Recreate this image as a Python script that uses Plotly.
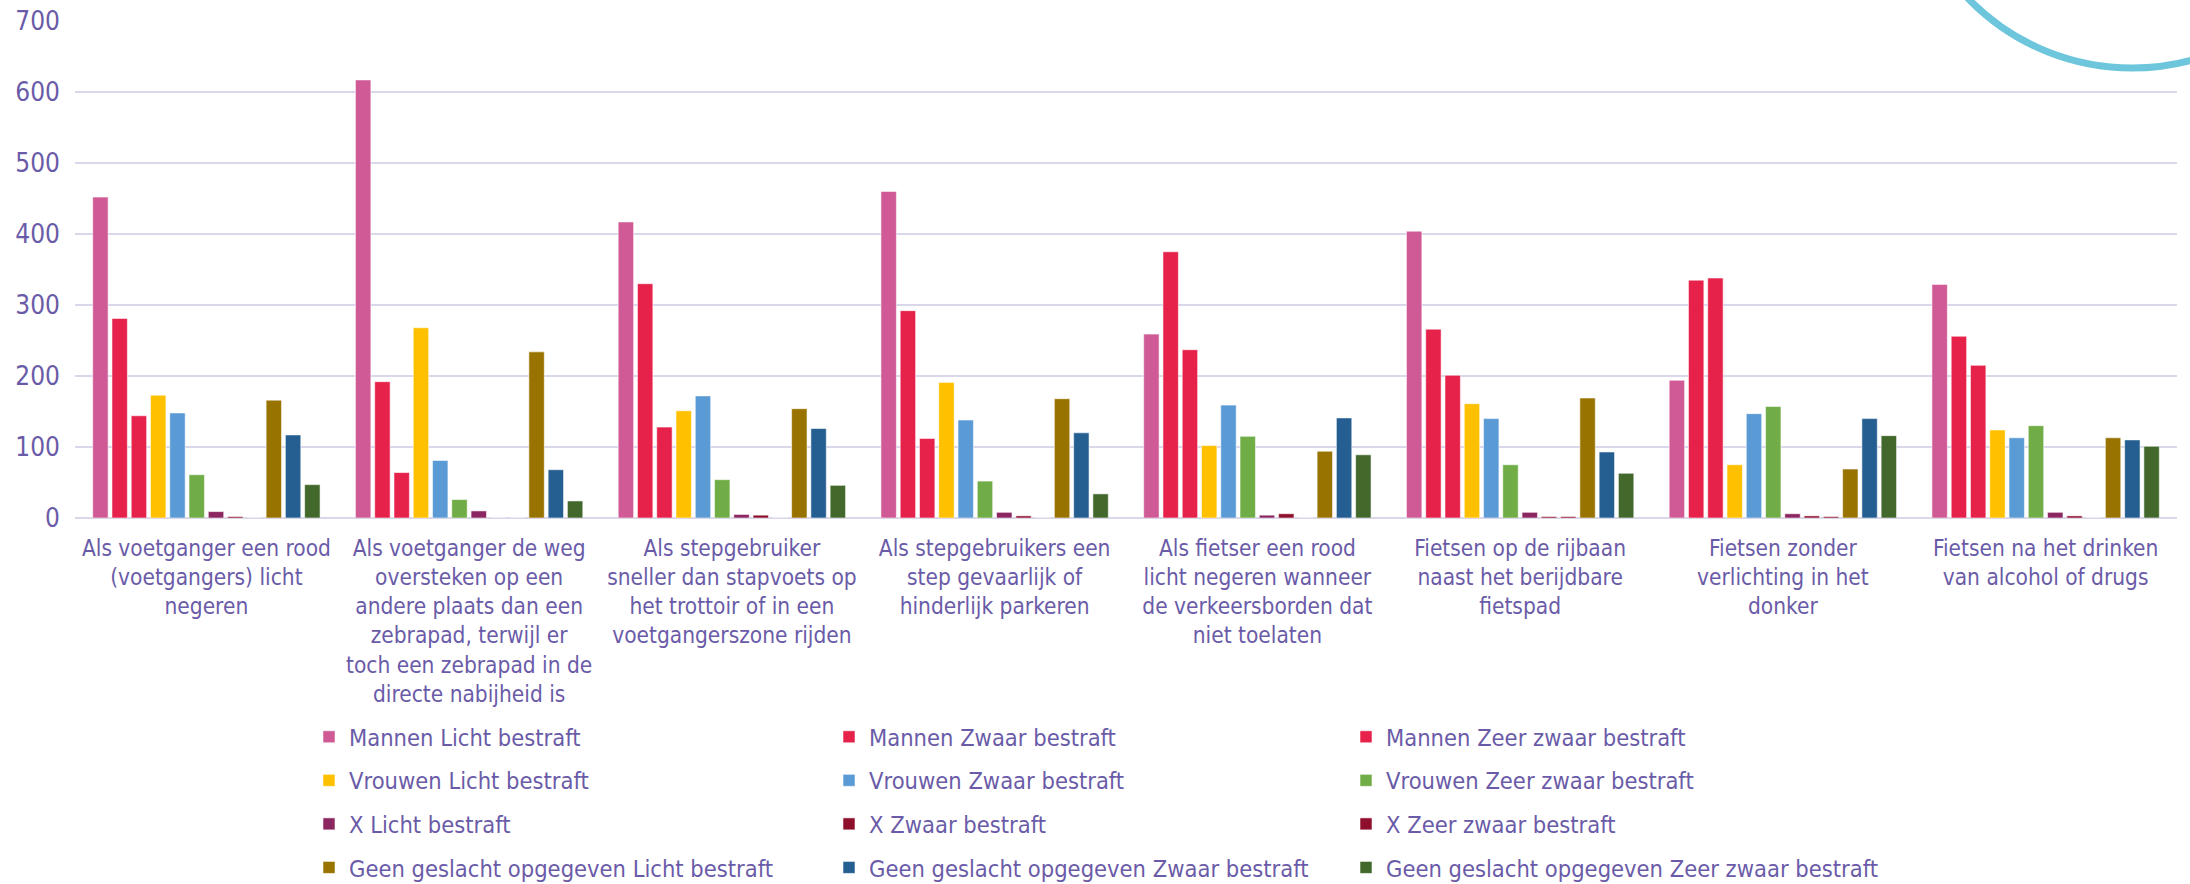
import plotly.graph_objects as go

# Offence categories (wrapped tick labels)
categories = [
    "Als voetganger een rood<br>(voetgangers) licht<br>negeren",
    "Als voetganger de weg<br>oversteken op een<br>andere plaats dan een<br>zebrapad, terwijl er<br>toch een zebrapad in de<br>directe nabijheid is",
    "Als stepgebruiker<br>sneller dan stapvoets op<br>het trottoir of in een<br>voetgangerszone rijden",
    "Als stepgebruikers een<br>step gevaarlijk of<br>hinderlijk parkeren",
    "Als fietser een rood<br>licht negeren wanneer<br>de verkeersborden dat<br>niet toelaten",
    "Fietsen op de rijbaan<br>naast het berijdbare<br>fietspad",
    "Fietsen zonder<br>verlichting in het<br>donker",
    "Fietsen na het drinken<br>van alcohol of drugs",
]

mannen_licht = [452, 617, 417, 460, 259, 404, 194, 329]
mannen_zwaar = [281, 192, 330, 292, 375, 266, 335, 256]
mannen_zeer_zwaar = [144, 64, 128, 112, 237, 201, 338, 215]
vrouwen_licht = [173, 268, 151, 191, 102, 161, 75, 124]
vrouwen_zwaar = [148, 81, 172, 138, 159, 140, 147, 113]
vrouwen_zeer_zwaar = [61, 26, 54, 52, 115, 75, 157, 130]
x_licht = [9, 10, 5, 8, 4, 8, 6, 8]
x_zwaar = [2, 0, 4, 3, 6, 2, 3, 3]
x_zeer_zwaar = [0, 0, 0, 0, 0, 2, 2, 0]
geen_licht = [166, 234, 154, 168, 94, 169, 69, 113]
geen_zwaar = [117, 68, 126, 120, 141, 93, 140, 110]
geen_zeer_zwaar = [47, 24, 46, 34, 89, 63, 116, 101]

y_ticks = [0, 100, 200, 300, 400, 500, 600, 700]

TEXT = "#6A5BA8"
GRID = "#DAD7EA"
FONT = "DejaVu Sans Condensed, Liberation Sans Narrow, DejaVu Sans, sans-serif"

# (name, values, colour, legend column)
series = [
    ("Mannen Licht bestraft", mannen_licht, "#CF5A96", "legend"),
    ("Mannen Zwaar bestraft", mannen_zwaar, "#E6224B", "legend2"),
    ("Mannen Zeer zwaar bestraft", mannen_zeer_zwaar, "#E6224B", "legend3"),
    ("Vrouwen Licht bestraft", vrouwen_licht, "#FFC000", "legend"),
    ("Vrouwen Zwaar bestraft", vrouwen_zwaar, "#5B9BD5", "legend2"),
    ("Vrouwen Zeer zwaar bestraft", vrouwen_zeer_zwaar, "#70AD47", "legend3"),
    ("X Licht bestraft", x_licht, "#8B2660", "legend"),
    ("X Zwaar bestraft", x_zwaar, "#8E0F2B", "legend2"),
    ("X Zeer zwaar bestraft", x_zeer_zwaar, "#8E0F2B", "legend3"),
    ("Geen geslacht opgegeven Licht bestraft", geen_licht, "#997300", "legend"),
    ("Geen geslacht opgegeven Zwaar bestraft", geen_zwaar, "#255E91", "legend2"),
    ("Geen geslacht opgegeven Zeer zwaar bestraft", geen_zeer_zwaar, "#43682B", "legend3"),
]

fig = go.Figure()
for name, vals, color, leg in series:
    fig.add_trace(go.Bar(
        x=categories, y=vals, name=name, legend=leg, legendgroup=name,
        marker=dict(color=color, line=dict(color="rgba(255,255,255,0.55)", width=1)),
    ))

W, H = 2190, 884
ml, mr, mt, mb = 75, 13, 21, 366
pw, ph = W - ml - mr, H - mt - mb


def px_x(p):
    return (p - ml) / pw


def px_y(p):
    return (H - mb - p) / ph


legend_common = dict(
    font=dict(family=FONT, size=23.5, color=TEXT),
    orientation="v", yanchor="top", xanchor="left",
    xref="container", yref="container",
    tracegroupgap=10, bgcolor="rgba(0,0,0,0)", itemclick=False,
)
legend_top = 1 - 715 / H

# decorative ring in the top-right corner
fig.add_shape(
    type="circle", xref="paper", yref="paper",
    x0=px_x(1904), x1=px_x(2360), y0=px_y(68), y1=px_y(-388),
    line=dict(color="#6EC6DC", width=7),
)

fig.update_layout(
    width=W, height=H,
    margin=dict(l=ml, r=mr, t=mt, b=mb, autoexpand=False),
    paper_bgcolor="white", plot_bgcolor="white",
    barmode="group", bargap=0.12, bargroupgap=0.2,
    font=dict(family=FONT, color=TEXT),
    xaxis=dict(
        tickfont=dict(family=FONT, size=22.5, color=TEXT),
        showgrid=False, showline=False, ticks="", ticklabelstandoff=14,
        automargin=False,
    ),
    yaxis=dict(
        range=[0, 700], tickvals=y_ticks,
        tickfont=dict(family=FONT, size=26, color=TEXT),
        showgrid=True, gridcolor=GRID, gridwidth=1.6,
        zeroline=True, zerolinecolor=GRID, zerolinewidth=1.6,
        showline=False, ticks="", ticklabelstandoff=14, automargin=False,
    ),
    legend=dict(x=309 / W, y=legend_top, **legend_common),
    legend2=dict(x=829 / W, y=legend_top, **legend_common),
    legend3=dict(x=1346 / W, y=legend_top, **legend_common),
)

fig.write_html("out.html")
